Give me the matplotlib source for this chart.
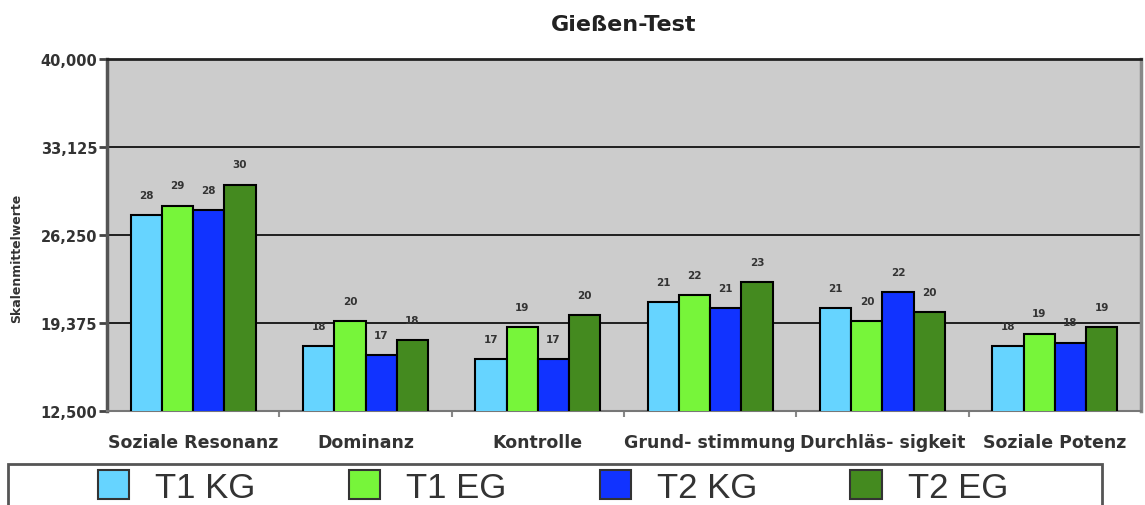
"""Gießen-Test: Skalenmittelwerte der Kontroll- und Experimentalgruppe zu T1 und T2.

Grouped bar chart with one group per scale, saved as out.png.
"""
import matplotlib.pyplot as plt
from matplotlib.patches import Patch, Rectangle
from matplotlib.ticker import FixedLocator, FuncFormatter

categories = ["Soziale Resonanz", "Dominanz", "Kontrolle",
              "Grund- stimmung", "Durchläs- sigkeit", "Soziale Potenz"]
series_names = ["T1 KG", "T1 EG", "T2 KG", "T2 EG"]

t1_kg = [27.84, 17.55, 16.55, 21.03, 20.55, 17.55]
t1_eg = [28.55, 19.55, 19.03, 21.55, 19.55, 18.55]
t2_kg = [28.23, 16.86, 16.55, 20.55, 21.81, 17.85]
t2_eg = [30.19, 18.06, 20.00, 22.59, 20.25, 19.05]

y_ticks = [12.5, 19.375, 26.25, 33.125, 40.0]

COLORS = ["#66d4ff", "#77f53a", "#1133ff", "#448a1f"]
W, H = 1145, 506


def de_number(v, _pos=None):
    return f"{v:,.3f}".replace(".", ",")


def draw_bars(ax, series):
    group = 0.725
    width = group / len(series)
    for i, (vals, color) in enumerate(zip(series, COLORS)):
        xs = [c + (i - (len(series) - 1) / 2) * width for c in range(len(vals))]
        bars = ax.bar(xs, vals, width=width, color=color, edgecolor="black",
                      linewidth=1.5, zorder=3)
        for bar, v in zip(bars, vals):
            ax.annotate(f"{v:.0f}", (bar.get_x() + bar.get_width() / 2, v),
                        xytext=(0, 14.5), textcoords="offset points",
                        ha="center", va="center", fontsize=7.5,
                        fontweight="bold", color="#333333", zorder=4)


def main():
    fig = plt.figure(figsize=(W / 100, H / 100), dpi=100)
    ax = fig.add_axes([107 / W, (H - 412) / H, (1141 - 107) / W, (412 - 60) / H])
    ax.set_facecolor("#cccccc")

    draw_bars(ax, [t1_kg, t1_eg, t2_kg, t2_eg])

    ax.set_xlim(-0.5, len(categories) - 0.5)
    ax.set_ylim(y_ticks[0], y_ticks[-1])
    ax.set_yticks(y_ticks)
    ax.yaxis.set_major_formatter(FuncFormatter(de_number))
    ax.yaxis.grid(True, color="#111111", linewidth=1.3)
    ax.set_axisbelow(True)

    ax.set_xticks(range(len(categories)))
    ax.set_xticklabels(categories, fontsize=12.5, fontweight="bold", color="#333333")
    ax.xaxis.set_minor_locator(FixedLocator([c + 0.5 for c in range(len(categories) - 1)]))
    ax.tick_params(axis="x", which="major", length=0, pad=16)
    ax.tick_params(axis="x", which="minor", length=4, width=1.5, color="#888888")
    ax.tick_params(axis="y", length=6, width=2, color="#444444", pad=1,
                   labelsize=10.5, labelcolor="#333333")
    for lbl in ax.get_yticklabels():
        lbl.set_fontweight("bold")

    ax.spines["left"].set(color="#555555", linewidth=2.5)
    ax.spines["top"].set(color="#222222", linewidth=2)
    ax.spines["right"].set(color="#888888", linewidth=2.5)
    ax.spines["bottom"].set(color="#777777", linewidth=1.5)

    fig.text(0.5 * (107 + 1141) / W, 1 - 25 / H, "Gießen-Test", ha="center",
             va="center", fontsize=16, fontweight="bold", color="#222222")
    fig.text(17 / W, 1 - 258 / H, "Skalenmittelwerte", rotation=90, ha="center",
             va="center", fontsize=9, fontweight="bold", color="#333333")

    # legend frame starts at y=465 px and runs past the bottom edge of the figure
    frame_top = 1 - 465 / H
    fig.patches.append(Rectangle((8 / W, frame_top - 0.3), (1102 - 8) / W, 0.3,
                                 transform=fig.transFigure, facecolor="none",
                                 edgecolor="#555555", linewidth=2))
    handles = [Patch(facecolor=c, edgecolor="#333333", linewidth=1.5) for c in COLORS]
    fig.legend(handles, series_names, loc="center", ncol=4, frameon=False,
               bbox_to_anchor=(553 / W, 1 - 488 / H),
               prop={"family": "Liberation Sans", "size": 25},
               handlelength=0.9, handleheight=0.92, handletextpad=0.75,
               columnspacing=2.68, labelcolor="#333333")

    fig.savefig("out.png", dpi=100)
    plt.close(fig)


if __name__ == "__main__":
    main()
